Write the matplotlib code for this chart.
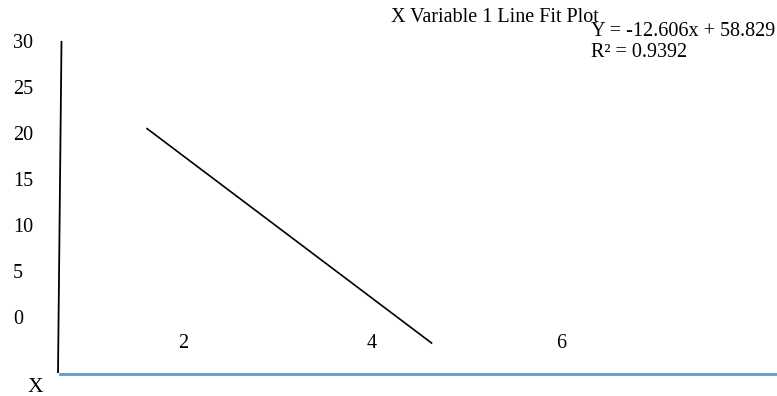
import matplotlib.pyplot as plt

# values
y_ticks = [0, 5, 10, 15, 20, 25, 30]
x_ticks = [2, 4, 6]
fit_x = [1.62, 4.63]
fit_y = [20.8, -2.5]
title = 'X Variable 1 Line Fit Plot'
equation = 'Y = -12.606x + 58.829'
r_squared = 'R² = 0.9392'

plt.rcParams['font.family'] = ['Liberation Serif', 'DejaVu Serif']

W, H = 777, 396
fig = plt.figure(figsize=(W / 100, H / 100), dpi=100)
ax = fig.add_axes([0, 0, 1, 1])
ax.axis('off')

# pixel -> data: x = 0 sits at px -6 (94.5 px per unit), y = 0 at px 320 (9.2 px per unit)
px_x = 94.5
px_y = 9.2


def dx(px):
    return (px + 6) / px_x


def dy(py):
    return (320 - py) / px_y


ax.set_xlim(dx(0), dx(W))
ax.set_ylim(dy(H), dy(0))

# the two axis strokes
ax.plot([dx(61.5), dx(58)], [dy(41), dy(373)], color='black', lw=1.3, solid_capstyle='butt')
ax.plot([dx(60), dx(W + 5)], [dy(374), dy(374)], color='#5b9bd5', lw=2)

# fitted line
ax.plot(fit_x, fit_y, color='black', lw=1.2)

fs = 14.5
for v in y_ticks:
    ax.text(dx(13), v, str(v), ha='left', va='center', fontsize=fs)
for v in x_ticks:
    ax.text(v, dy(343), str(v), ha='center', va='center', fontsize=fs)
ax.text(dx(35), dy(388), 'X', ha='center', va='center', fontsize=fs + 1)

fig.text(495 / W, 1 - 22 / H, title, ha='center', va='baseline', fontsize=fs)
fig.text(591 / W, 1 - 36 / H, equation, ha='left', va='baseline', fontsize=fs)
fig.text(591 / W, 1 - 57 / H, r_squared, ha='left', va='baseline', fontsize=fs)

fig.savefig('out.png', dpi=100)
